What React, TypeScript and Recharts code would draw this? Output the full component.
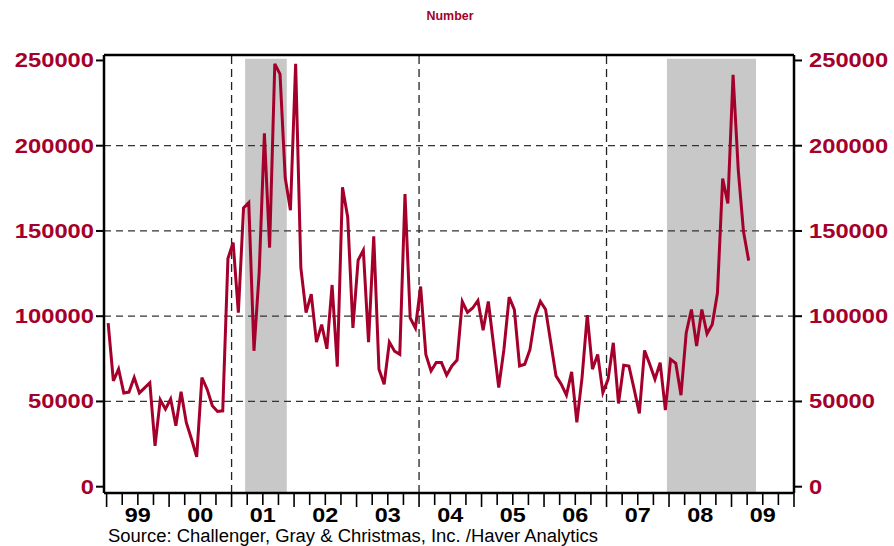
import React from 'react';
import { LineChart, Line, XAxis, YAxis, ReferenceArea, ReferenceLine } from 'recharts';

// Monthly job-cut announcements, Jan 1999 .. Apr 2009
const startYear = 1999;
const yearLabels = ['99', '00', '01', '02', '03', '04', '05', '06', '07', '08', '09'];
const layoffs = [
  96000, 62000, 69000, 55000, 55500, 64000, 55000, 58000, 61000, 24000, 51000, 45500,
  51400, 35700, 55700, 37700, 28000, 17500, 64000, 57200, 47500, 44100, 44500, 133800,
  143200, 102100, 163500, 166600, 79700, 125600, 207200, 140200, 248000, 242000, 181200, 162100,
  248000, 128500, 102100, 112900, 84800, 95100, 80900, 118300, 70400, 175600, 158100, 93100,
  132900, 138700, 84800, 146900, 68900, 60100, 84800, 79500, 77600, 171700, 98900, 93100,
  117400, 77600, 67900, 72800, 72800, 65400, 70800, 74300, 108600, 102200, 104800, 109200,
  91800, 108600, 83400, 58200, 80500, 111200, 103800, 70800, 71800, 80500, 99900, 108700,
  103900, 84400, 65000, 60100, 53700, 67300, 37700, 64000, 100600, 68900, 77600, 55200,
  63000, 84400, 48800, 71200, 70800, 57200, 43000, 79900, 71800, 63000, 72700, 44900,
  74700, 72400, 53700, 90200, 103900, 82500, 103900, 89700, 95100, 113600, 180700, 166100,
  241600, 185600, 149600, 132600,
];
// recession shading, in months since Jan 1999
const recessions = [
  [26.6, 34.6],
  [107.6, 124.7],
];
const yTicks = [0, 50000, 100000, 150000, 200000, 250000];
const gridValues = [50000, 100000, 150000, 200000];
const cycleLines = [24, 60, 96];
const quarterTicks = Array.from({ length: 45 }, (_, i) => i * 3);

const RED = '#A5002B';
const FONT = '"Liberation Sans", Arial, sans-serif';
const Y_MIN = -3700;
const Y_MAX = 253200;

const YTick = (props: any) => {
  const { x, y, payload, textAnchor } = props;
  const s = String(payload.value);
  return (
    <text x={x} y={y} dy={7} textAnchor={textAnchor} fill={RED} fontFamily={FONT} fontWeight="bold"
      fontSize={20} textLength={s.length * 13.2} lengthAdjust="spacingAndGlyphs">
      {s}
    </text>
  );
};

const XTick = (props: any) => {
  const { x, y, payload } = props;
  const v = payload.value as number;
  const isYear = v % 12 === 0;
  const label = v % 12 === 6 ? yearLabels[(v - 6) / 12] : null;
  return (
    <g>
      <line x1={x} y1={y} x2={x} y2={y + (isYear ? 14 : 12)} stroke="#000" strokeWidth={1.6} />
      {label && (
        <text x={x} y={y + 29} textAnchor="middle" fill="#000" fontFamily={FONT} fontWeight="bold"
          fontSize={19.5} textLength={26} lengthAdjust="spacingAndGlyphs">
          {label}
        </text>
      )}
    </g>
  );
};

export default function App() {
  const data = layoffs.map((v, i) => ({ m: i + 0.3, v }));
  return (
    <div style={{ position: 'absolute', left: 0, top: 0, width: 894, height: 546, background: '#fff' }}>
      <LineChart width={894} height={546} data={data} margin={{ top: 55, right: 0, bottom: 0, left: 0 }}>
        <XAxis dataKey="m" type="number" domain={[-0.5, 12 * (2010 - startYear)]} ticks={quarterTicks}
          interval={0} height={53} tickSize={0} tickMargin={0} tickLine={false} tick={<XTick />}
          axisLine={{ stroke: '#000', strokeWidth: 2.5 }} />
        <YAxis yAxisId="l" domain={[Y_MIN, Y_MAX]} ticks={yTicks} interval={0} width={104}
          tickSize={8} tickMargin={2} tick={<YTick />} tickLine={{ stroke: '#000', strokeWidth: 2 }}
          axisLine={{ stroke: '#000', strokeWidth: 2.5 }} allowDataOverflow />
        <YAxis yAxisId="r" orientation="right" domain={[Y_MIN, Y_MAX]} ticks={yTicks} interval={0} width={100}
          tickSize={8} tickMargin={7} tick={<YTick />} tickLine={{ stroke: '#000', strokeWidth: 2 }}
          axisLine={{ stroke: '#000', strokeWidth: 2.5 }} allowDataOverflow />
        {recessions.map(([a, b]) => (
          <ReferenceArea key={a} yAxisId="l" x1={a} x2={b} y1={Y_MIN} y2={251000} fill="#C8C8C8"
            fillOpacity={1} stroke="none" />
        ))}
        {gridValues.map((g) => (
          <ReferenceLine key={g} yAxisId="l" y={g} stroke="#333" strokeWidth={1.3} strokeDasharray="7 5" />
        ))}
        {cycleLines.map((c) => (
          <ReferenceLine key={c} yAxisId="l" x={c} stroke="#222" strokeWidth={1.3} strokeDasharray="8 5" />
        ))}
        <ReferenceLine yAxisId="l" y={Y_MAX} stroke="#000" strokeWidth={2.5} />
        <Line yAxisId="l" dataKey="v" type="linear" stroke={RED} strokeWidth={3} dot={false}
          isAnimationActive={false} />
      </LineChart>
      <svg width={894} height={546} style={{ position: 'absolute', left: 0, top: 0, pointerEvents: 'none' }}>
        <text x={450} y={19.5} textAnchor="middle" fill={RED} fontFamily={FONT} fontWeight="bold" fontSize={12.5}
          textLength={47} lengthAdjust="spacingAndGlyphs">
          Number
        </text>
        <text x={108} y={542} fill="#000" fontFamily={FONT} fontSize={18} textLength={490}
          lengthAdjust="spacingAndGlyphs">
          Source:  Challenger, Gray &amp; Christmas, Inc. /Haver Analytics
        </text>
      </svg>
    </div>
  );
}
